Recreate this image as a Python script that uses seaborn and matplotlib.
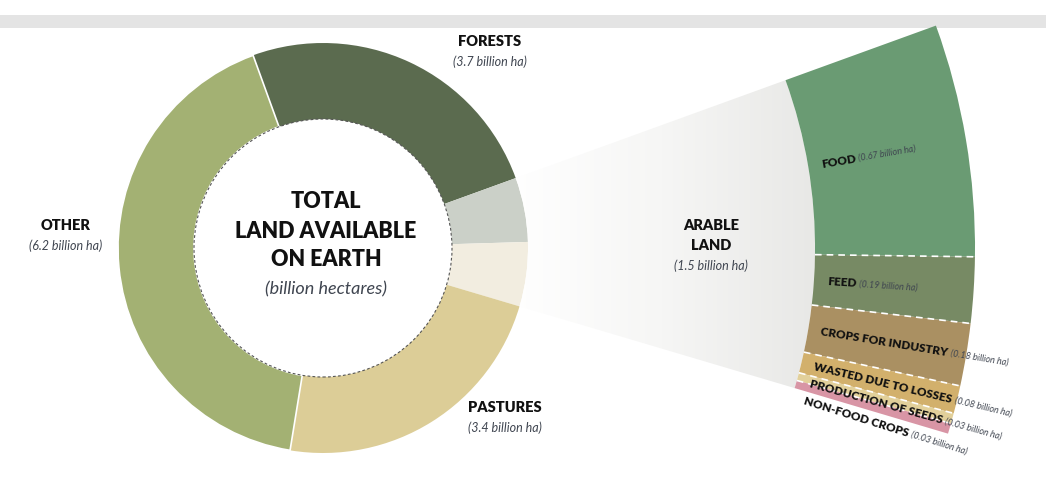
import matplotlib

matplotlib.use("Agg")

import matplotlib.pyplot as plt
import numpy as np
import seaborn as sns
from matplotlib.patches import Circle, Rectangle, Wedge

sns.set_theme(style="white")
plt.rcParams["font.family"] = ["Lato", "DejaVu Sans"]

# ---------------------------------------------------------------------------
# data (billion hectares)
# ---------------------------------------------------------------------------
land_names = ["FORESTS", "ARABLE LAND", "PASTURES", "OTHER"]
land_values = [3.7, 1.5, 3.4, 6.2]

use_names = ["FOOD", "FEED", "CROPS FOR INDUSTRY", "WASTED DUE TO LOSSES",
             "PRODUCTION OF SEEDS", "NON-FOOD CROPS"]
use_values = [0.67, 0.19, 0.18, 0.08, 0.03, 0.03]

# colours
land_colors = {"FORESTS": "#5b6b4f", "PASTURES": "#dccd97", "OTHER": "#a3b173"}
arable_colors = ["#cbd0c8", "#f2ede0"]  # two-tone arable wedge
use_colors = ["#6a9b73", "#778a64", "#aa9062", "#d2b06c", "#e2d09a", "#d895a5"]

W, H = 1046, 483
cx, cy = 323, H - 248
R_OUT, R_IN = 205, 129
BAND_IN, BAND_OUT = 492, 652
DARK = "#111111"
SOFT = "#3f4550"
BOLD = "heavy"

fig = plt.figure(figsize=(W / 100, H / 100), dpi=100)
ax = fig.add_axes([0, 0, 1, 1])

# grey strip at the top
ax.add_patch(Rectangle((0, H - 28), W, 13, color="#e4e4e4", lw=0, zorder=0))

# main donut, arable split into two tones
vals, cols = [], []
for n, v in zip(land_names, land_values):
    if n == "ARABLE LAND":
        vals += [v / 2, v / 2]
        cols += arable_colors
    else:
        vals.append(v)
        cols.append(land_colors[n])
arable_mid = land_values[0] + land_values[1] / 2
start = 1.7 + arable_mid / sum(land_values) * 360
wedges, _ = ax.pie(vals, colors=cols, center=(cx, cy), radius=R_OUT,
                   startangle=start, counterclock=False,
                   wedgeprops=dict(width=R_OUT - R_IN, linewidth=0))
wedges[-1].set_edgecolor("white")
wedges[-1].set_linewidth(1.2)
ax.add_patch(Circle((cx, cy), R_IN, fill=False, ec="#555555", lw=0.8,
                    ls=(0, (2.5, 2))))

lo = min(wedges[1].theta1, wedges[2].theta1)
hi = max(wedges[1].theta2, wedges[2].theta2)

# light grey fan
fan = Wedge((cx, cy), BAND_IN, lo, hi, width=BAND_IN - R_OUT, lw=0,
            facecolor="none")
ax.add_patch(fan)
grad = sns.blend_palette(["#ffffff", "#f6f6f5", "#e8e8e6"], as_cmap=True)
img = ax.imshow(np.linspace(0, 1, 256)[None, :], cmap=grad, aspect="auto",
                extent=(cx + R_OUT * 0.9, cx + BAND_IN, 0, H), zorder=1)
img.set_clip_path(fan)

# band with the uses of arable land
fracs = np.array(use_values) / sum(use_values) * (hi - lo) / 360
uw, _ = ax.pie(fracs, colors=use_colors, center=(cx, cy), radius=BAND_OUT,
               startangle=hi, counterclock=False, normalize=False,
               wedgeprops=dict(width=BAND_OUT - BAND_IN, linewidth=0, zorder=2))
for w in uw[:-1]:
    t = np.deg2rad(w.theta1)
    ax.plot([cx + BAND_IN * np.cos(t), cx + BAND_OUT * np.cos(t)],
            [cy + BAND_IN * np.sin(t), cy + BAND_OUT * np.sin(t)],
            color="white", lw=1.2, ls=(0, (4, 3)), zorder=3)

# labels along the band
renderer = fig.canvas.get_renderer()
prev = None
for w, name, v in zip(uw, use_names, use_values):
    ang = (w.theta1 + w.theta2) / 2
    if prev is not None:
        ang = min(ang, prev - 2.0)
    prev = ang
    t = np.deg2rad(ang)
    r0 = 505
    x0, y0 = cx + r0 * np.cos(t), cy + r0 * np.sin(t)
    kw = dict(rotation=ang, rotation_mode="anchor", ha="left",
              va="center_baseline", zorder=4)
    ax.text(x0, y0, name, fontsize=8.5, fontweight=BOLD, color=DARK, **kw)
    tmp = ax.text(0, 0, name + " ", fontsize=8.5, fontweight=BOLD)
    wd = tmp.get_window_extent(renderer).width
    tmp.remove()
    ax.text(x0 + wd * np.cos(t), y0 + wd * np.sin(t), f"({v:.2f} billion ha)",
            fontsize=6.5, style="italic", color=SOFT, **kw)


def label(x, y, title, value, gap=19, size=10.5):
    lines = title.split("\n")
    for i, ln in enumerate(lines):
        ax.text(x, H - y - i * gap, ln, ha="center", va="center",
                fontsize=size, fontweight=BOLD, color=DARK, zorder=4)
    ax.text(x, H - y - len(lines) * gap - 1, f"({value} billion ha)",
            ha="center", va="center", fontsize=9, style="italic",
            color=SOFT, zorder=4)


vmap = dict(zip(land_names, land_values))
label(490, 42, "FORESTS", vmap["FORESTS"])
label(66, 226, "OTHER", vmap["OTHER"])
label(505, 408, "PASTURES", vmap["PASTURES"])
label(711, 225, "ARABLE\nLAND", vmap["ARABLE LAND"], gap=20, size=10.5)

for i, ln in enumerate(["TOTAL", "LAND AVAILABLE", "ON EARTH"]):
    ax.text(cx + 3, H - 202 - i * 29, ln, ha="center", va="center",
            fontsize=15.5, fontweight=BOLD, color=DARK)
ax.text(cx + 3, H - 289, "(billion hectares)", ha="center", va="center",
        fontsize=13, style="italic", color=SOFT)

ax.set_xlim(0, W)
ax.set_ylim(0, H)
ax.set_aspect("equal")
ax.axis("off")

fig.savefig("out.png", dpi=100)
plt.close(fig)
